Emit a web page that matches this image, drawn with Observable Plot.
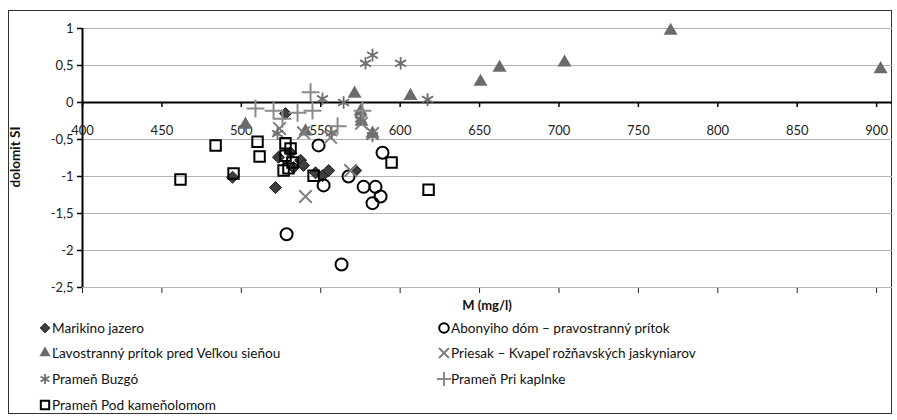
<!DOCTYPE html>
<html><head><meta charset="utf-8">
<script src="https://cdn.jsdelivr.net/npm/d3@7"></script>
<script src="https://cdn.jsdelivr.net/npm/@observablehq/plot@0.6"></script>
<style>
body{margin:0;background:#fff;font-family:Lato,"Open Sans",sans-serif;color:#111;}
#wrap{position:relative;width:897px;height:420px;overflow:hidden;}
#frame{position:absolute;left:8px;top:10px;width:884px;height:404px;border:1.5px solid #333;box-sizing:border-box;}
#chart{position:absolute;left:0;top:0;}
#ytitle{position:absolute;left:15px;top:157px;transform:translate(-50%,-50%) rotate(-90deg);font-weight:bold;font-size:13.5px;white-space:nowrap;}
#xtitle{position:absolute;top:297px;left:447px;width:80px;text-align:center;font-weight:bold;font-size:13px;}
#legend{position:absolute;left:40px;top:315px;display:grid;grid-template-columns:399px 420px;grid-auto-rows:25.6px;font-size:13.6px;}
#legend div{display:flex;align-items:center;white-space:nowrap;}
#legend svg{margin-right:2px;overflow:visible;}
</style></head>
<body>
<div id="wrap">
  <div id="frame"></div>
  <div id="chart"></div>
  <div id="ytitle">dolomit SI</div>
  <div id="xtitle">M (mg/l)</div>
  <div id="legend"></div>
</div>
<script>
const seriesNames = [
  "Marikino jazero",
  "Abonyiho dóm – pravostranný prítok",
  "Ľavostranný prítok pred Veľkou sieňou",
  "Priesak – Kvapeľ rožňavských jaskyniarov",
  "Prameň Buzgó",
  "Prameň Pri kaplnke",
  "Prameň Pod kameňolomom"
];
const xTicks = [400, 450, 500, 550, 600, 650, 700, 750, 800, 850, 900];
const yTicks = [1, 0.5, 0, -0.5, -1, -1.5, -2, -2.5];

// [M (mg/l), dolomit SI]
const marikino = [[527.8,-0.15],[494.5,-1.01],[521.5,-1.15],[523.4,-0.74],[531.0,-0.68],[537.3,-0.78],[532.9,-0.88],[539.2,-0.85],[546.7,-0.95],[551.1,-0.99],[555.0,-0.92],[572.0,-0.92]];
const abonyi = [[528.5,-1.78],[563.1,-2.19],[551.8,-1.12],[567.5,-1.00],[577.0,-1.14],[584.5,-1.14],[587.7,-1.27],[582.6,-1.36],[548.6,-0.58],[588.9,-0.68]];
const lavostranny = [[502.6,-0.30],[571.3,0.12],[606.5,0.09],[650.6,0.28],[662.6,0.47],[703.5,0.54],[770.3,0.97],[902.5,0.45],[575.1,-0.12],[575.7,-0.26],[582.6,-0.42],[540.4,-0.39]];
const priesak = [[540.4,-1.27],[568.8,-0.92],[539.2,-0.41],[556.2,-0.47],[575.7,-0.28],[582.6,-0.42],[524.0,-0.35]];
const buzgo = [[582.6,0.64],[578.2,0.53],[600.3,0.53],[617.3,0.04],[564.4,0.00],[551.1,0.05],[522.8,-0.42],[575.1,-0.22],[582.6,-0.45],[556.8,-0.41]];
const kaplnke = [[508.9,-0.08],[520.3,-0.11],[535.4,-0.14],[544.8,-0.11],[543.6,0.14],[525.9,-0.22],[560.6,-0.32],[576.3,-0.11]];
const podKamenolomom = [[461.7,-1.04],[483.8,-0.58],[495.1,-0.96],[510.2,-0.53],[511.5,-0.73],[527.8,-0.55],[531.0,-0.62],[527.8,-0.72],[532.2,-0.81],[526.6,-0.92],[529.7,-0.89],[545.5,-0.99],[594.6,-0.81],[617.9,-1.18]];

const seriesData = [marikino, abonyi, lavostranny, priesak, buzgo, kaplnke, podKamenolomom];
const styles = [
  {symbol:"diamond2", fill:"#3e3e3e", stroke:"#1a1a1a", strokeWidth:1, r:5.4},
  {symbol:"circle", fill:"none", stroke:"#000", strokeWidth:2, r:6},
  {symbol:"triangle", fill:"#6b6b6b", stroke:"none", strokeWidth:0, r:5.2},
  {symbol:"times", fill:"none", stroke:"#808080", strokeWidth:2, r:5.8},
  {symbol:"asterisk", fill:"none", stroke:"#6e6e6e", strokeWidth:1.8, r:6},
  {symbol:"plus", fill:"none", stroke:"#8a8a8a", strokeWidth:2, r:5.8},
  {symbol:"square", fill:"none", stroke:"#000", strokeWidth:2, r:5.9}
];

const fmt = d => String(d).replace(".", ",");
// x-axis crosses the y-axis at y = 0; its tick labels sit just below that line
const xAxisAt = 0;
const xLabelOffset = -0.38;

const dotMarks = seriesData.map((data, i) => Plot.dot(data, {
  x: d => d[0], y: d => d[1],
  symbol: () => styles[i].symbol,
  fill: styles[i].fill, stroke: styles[i].stroke, strokeWidth: styles[i].strokeWidth, r: styles[i].r
}));

const chart = Plot.plot({
  width: 897, height: 296,
  marginLeft: 82, marginRight: 5, marginTop: 28, marginBottom: 9,
  x: {domain: [400, 910]},
  y: {domain: [-2.5, 1]},
  symbol: {type: "identity"},
  style: {fontFamily: "Lato, 'Open Sans', sans-serif", fontSize: "13px", color: "#222", background: "transparent"},
  marks: [
    Plot.gridY(yTicks, {stroke: "#b3b3b3", strokeOpacity: 1, strokeWidth: 1}),
    Plot.axisY(yTicks, {tickSize: 5, tickPadding: 4, tickFormat: fmt, label: null, stroke: "#000", strokeWidth: 1.5, fontSize: 13}),
    Plot.ruleX([400], {stroke: "#000", strokeWidth: 2}),
    Plot.ruleY([xAxisAt], {stroke: "#000", strokeWidth: 2}),
    Plot.ruleX(xTicks, {x: d => d, y1: xAxisAt, y2: xAxisAt - 0.068, stroke: "#000", strokeWidth: 1.5}),
    Plot.text(xTicks, {x: d => d, y: () => xAxisAt + xLabelOffset, text: fmt, fontSize: 13, fill: "#222"}),
    ...dotMarks
  ]
});
document.getElementById("chart").appendChild(chart);

// legend
const leg = document.getElementById("legend");
const symMap = {diamond2: d3.symbolDiamond2, circle: d3.symbolCircle, triangle: d3.symbolTriangle, times: d3.symbolTimes, asterisk: d3.symbolAsterisk, plus: d3.symbolPlus, square: d3.symbolSquare};
seriesNames.forEach((name, i) => {
  const s = styles[i];
  const item = document.createElement("div");
  const svg = d3.create("svg").attr("width", 10).attr("height", 10);
  const size = Math.PI * Math.pow(s.r * 0.8, 2);
  svg.append("path")
    .attr("transform", "translate(5,5)")
    .attr("d", d3.symbol(symMap[s.symbol], size)())
    .attr("fill", s.fill)
    .attr("stroke", s.stroke)
    .attr("stroke-width", s.strokeWidth);
  item.appendChild(svg.node());
  const span = document.createElement("span");
  span.textContent = name;
  item.appendChild(span);
  leg.appendChild(item);
});
</script>
</body></html>
